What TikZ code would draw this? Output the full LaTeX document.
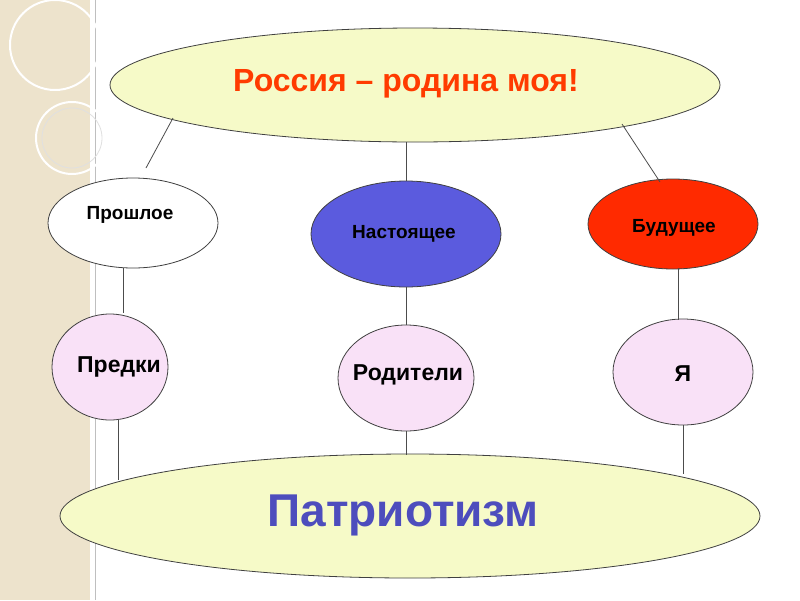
\documentclass[tikz,border=0pt]{standalone}
\usepackage{fontspec}
\setmainfont{Liberation Sans}
\usetikzlibrary{shapes.geometric}
\definecolor{ylw}{HTML}{F6FAC8}
\definecolor{pnk}{HTML}{F9E1F7}
\definecolor{blu}{HTML}{5B5BDE}
\definecolor{rd}{HTML}{FF2A00}
\definecolor{beige}{HTML}{EDE3CC}
\begin{document}
\begin{tikzpicture}[x=1pt,y=-1pt,
  ell/.style={ellipse,draw=black!75,line width=0.8pt,inner sep=0pt},
  sm/.style={font=\bfseries\fontsize{19}{22}\selectfont},
  md/.style={font=\bfseries\fontsize{23}{27}\selectfont},
  ln/.style={draw=black!70,line width=0.8pt}]
\useasboundingbox (0,0) rectangle (800,600);
\fill[white] (0,0) rectangle (800,600);
\fill[beige] (0,0) rectangle (90,600);
\draw[black!25,line width=0.6pt] (95,0) -- (95,600);
\draw[white,line width=2pt] (55,45) circle (45);
\draw[white,line width=2pt] (72,138) circle (36);
\draw[black!12,line width=0.8pt] (72,138) circle (30);
\node[ell,fill=ylw,minimum width=610,minimum height=114] (top) at (415,85) {};
\node[font=\bfseries\fontsize{32}{36}\selectfont,text=rd!80!orange] (tt) at (406,84) {Россия – родина моя!};
\node[ell,fill=white,minimum width=170,minimum height=90] (past) at (133,223) {};
\node[sm] (tpast) at (130,215) {Прошлое};
\node[ell,fill=blu,minimum width=190,minimum height=106] (pres) at (406,234) {};
\node[sm] (tpres) at (404,234) {Настоящее};
\node[ell,fill=rd,minimum width=170,minimum height=90] (fut) at (673,224) {};
\node[sm] (tfut) at (674,228) {Будущее};
\node[ell,fill=pnk,minimum width=116,minimum height=106] (anc) at (110,367) {};
\node[md] (tanc) at (119,367) {Предки};
\node[ell,fill=pnk,minimum width=136,minimum height=106] (par) at (406,378) {};
\node[md] (tpar) at (408,375) {Родители};
\node[ell,fill=pnk,minimum width=140,minimum height=106] (me) at (683,372) {};
\node[md] (tme) at (683,374) {Я};
\node[ell,fill=ylw,minimum width=700,minimum height=124] (bot) at (410,516) {};
\node[font=\bfseries\fontsize{46}{52}\selectfont,text=blu!85!black] (tbot) at (403,515) {Патриотизм};
\coordinate (c1) at (173,118);
\coordinate (c2) at (146,168);
\coordinate (c3) at (622,124);
\coordinate (c4) at (660,182);
\draw[ln] (c1) -- (c2);
\draw[ln] (top.south -| pres.north) -- (pres.north);
\draw[ln] (c3) -- (c4);
\draw[ln] (123,268) -- (123,313);
\draw[ln] (pres.south) -- (par.north);
\draw[ln] (678,268) -- (678,320);
\draw[ln] (118,420) -- (118,480);
\draw[ln] (par.south) -- (406,455);
\draw[ln] (683,425) -- (683,474);
\end{tikzpicture}
\end{document}
